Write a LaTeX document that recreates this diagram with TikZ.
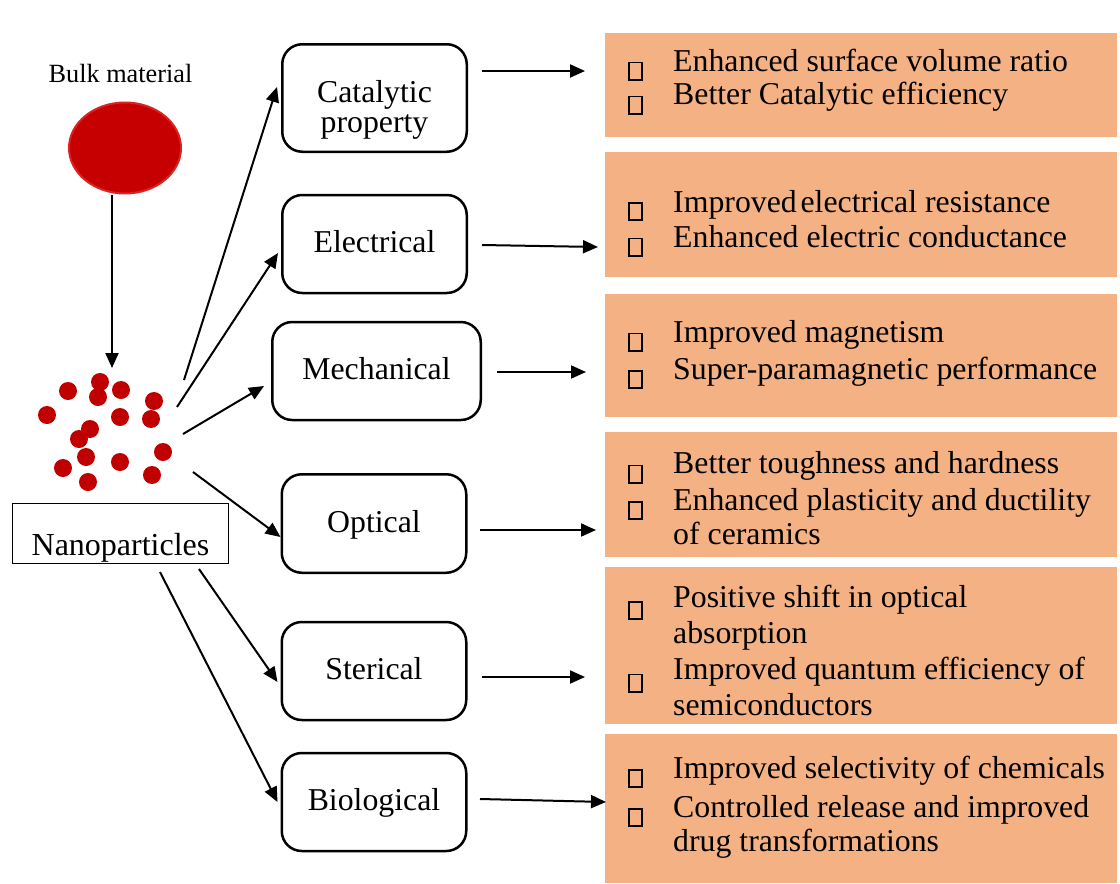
\documentclass[tikz,border=0pt]{standalone}
\usepackage{fontspec}
\setmainfont{Liberation Serif}
\usetikzlibrary{arrows.meta,shapes.geometric}
\definecolor{boxorange}{RGB}{244,177,131}
\definecolor{npred}{RGB}{192,0,0}
\definecolor{bulkred}{RGB}{198,0,0}
\definecolor{bulkedge}{RGB}{218,35,35}
\begin{document}
\begin{tikzpicture}[x=1pt,y=-1pt,
  arr/.style={line width=2pt,-{Triangle[length=15pt,width=13pt]}},
  propbox/.style={draw,line width=2.5pt,rounded corners=20pt,minimum width=184.5pt,minimum height=98pt,
    font=\fontsize{31.8}{30}\selectfont,text height=24pt,text depth=7pt,inner sep=0pt},
  infobox/.style={fill=boxorange,minimum width=512pt,inner sep=0pt},
  itemtext/.style={anchor=base west,font=\fontsize{31.8}{36}\selectfont,inner sep=0pt},
  bulletbox/.style={draw,line width=1.8pt,minimum width=13.2pt,minimum height=17.2pt,inner sep=0pt},
  npdot/.style={circle,fill=npred,minimum size=18pt,inner sep=0pt}
]
\useasboundingbox (0,0) rectangle (1120,884);

% bulk material
\node[anchor=base,font=\fontsize{26.3}{30}\selectfont,inner sep=0pt] (bulktxt) at (120.5,82) {Bulk material};
\node[ellipse,fill=bulkred,draw=bulkedge,line width=2pt,minimum width=112pt,minimum height=91pt,inner sep=0pt] (bulk) at (125,148) {};

% nanoparticles
\foreach \px/\py [count=\i] in {68/391,100/382,98/397,121/390,154/401,47/415,120/417,151/419,90/429,79/439,86/457,163/452,120/462,63/468,152/475,88/482}
  \node[npdot] (d\i) at (\px,\py) {};
\node[draw,line width=1pt,minimum width=216pt,minimum height=60pt,inner sep=0pt,
  font=\fontsize{32}{36}\selectfont,text height=50pt,text depth=7pt] (np) at (120.5,533.5) {Nanoparticles};

\coordinate (nptop) at (112,368);
\draw[arr] ([xshift=-13pt]bulk.south) -- (nptop);

% property boxes
\node[propbox,minimum height=107.5pt,text height=48pt,text depth=40pt] (cat) at (374.5,98)
  {\begin{tabular}[t]{@{}c@{}}Catalytic\\property\end{tabular}};
\node[propbox] (elec) at (374.5,244) {Electrical};
\node[propbox,minimum width=208.5pt] (mech) at (376.5,371) {Mechanical};
\node[propbox,minimum height=98.5pt] (opt) at (374,523.5) {Optical};
\node[propbox] (ster) at (374,671) {Sterical};
\node[propbox] (bio) at (374,802) {Biological};

% arrows from nanoparticles
\coordinate (s1) at (184,380);
\coordinate (s2) at (177,407);
\coordinate (s3) at (183,434);
\coordinate (s4) at (193,472);
\coordinate (s5) at (199,569);
\coordinate (s6) at (160,572);
\draw[arr] (s1) -- ([xshift=-4pt,yshift=11pt]cat.west);
\draw[arr] (s2) -- ([xshift=-3pt,yshift=-9pt]elec.west);
\draw[arr] (s3) -- ([xshift=-7pt,yshift=-15pt]mech.west);
\draw[arr] (s4) -- ([xshift=0pt,yshift=-13.5pt]opt.west);
\draw[arr] (s5) -- ([xshift=-3pt,yshift=-11pt]ster.west);
\draw[arr] (s6) -- ([xshift=-3pt,yshift=0pt]bio.west);

% info boxes
\node[infobox,minimum height=104pt] (r1) at (861,85) {};
\node[infobox,minimum height=125pt] (r2) at (861,214.5) {};
\node[infobox,minimum height=123pt] (r3) at (861,355.5) {};
\node[infobox,minimum height=125pt] (r4) at (861,494.5) {};
\node[infobox,minimum height=157pt] (r5) at (861,645.5) {};
\node[infobox,minimum height=149pt] (r6) at (861,808.5) {};

% arrows to info boxes
\coordinate (a1s) at (482,71);  \coordinate (a1e) at (585,71);
\coordinate (a2s) at (482,245); \coordinate (a2e) at (598,247);
\coordinate (a3s) at (497,372); \coordinate (a3e) at (586,372);
\coordinate (a4s) at (480,530); \coordinate (a4e) at (596,530);
\coordinate (a5s) at (482,677); \coordinate (a5e) at (585,677);
\coordinate (a6s) at (480,799); \coordinate (a6e) at (606,802);
\foreach \k in {1,...,6} \draw[arr] (a\k s) -- (a\k e);

% bullets
\foreach \by [count=\j] in {71,105,211.5,247,342,379.5,474,510.5,610.5,683,778.5,817.5}
  \node[bulletbox] (b\j) at (635.5,\by) {};

% texts
\node[itemtext] (t1) at (673,71) {Enhanced surface volume ratio};
\node[itemtext] (t2) at (673,104) {Better Catalytic efficiency};
\node[itemtext] (t3) at (673,212) {Improved\hspace{0.12em}electrical resistance};
\node[itemtext] (t4) at (673,247) {Enhanced electric conductance};
\node[itemtext] (t5) at (673,342) {Improved magnetism};
\node[itemtext] (t6) at (673,379) {Super-paramagnetic performance};
\node[itemtext] (t7) at (673,473) {Better toughness and hardness};
\node[itemtext] (t8) at (673,510) {Enhanced plasticity and ductility};
\node[itemtext] (t9) at (673,544) {of ceramics};
\node[itemtext] (t10) at (673,607) {Positive shift in optical};
\node[itemtext] (t11) at (673,643) {absorption};
\node[itemtext] (t12) at (673,679) {Improved quantum efficiency of};
\node[itemtext] (t13) at (673,715) {semiconductors};
\node[itemtext] (t14) at (673,778) {Improved selectivity of chemicals};
\node[itemtext] (t15) at (673,817) {Controlled release and improved};
\node[itemtext] (t16) at (673,851) {drug transformations};
\end{tikzpicture}
\end{document}
